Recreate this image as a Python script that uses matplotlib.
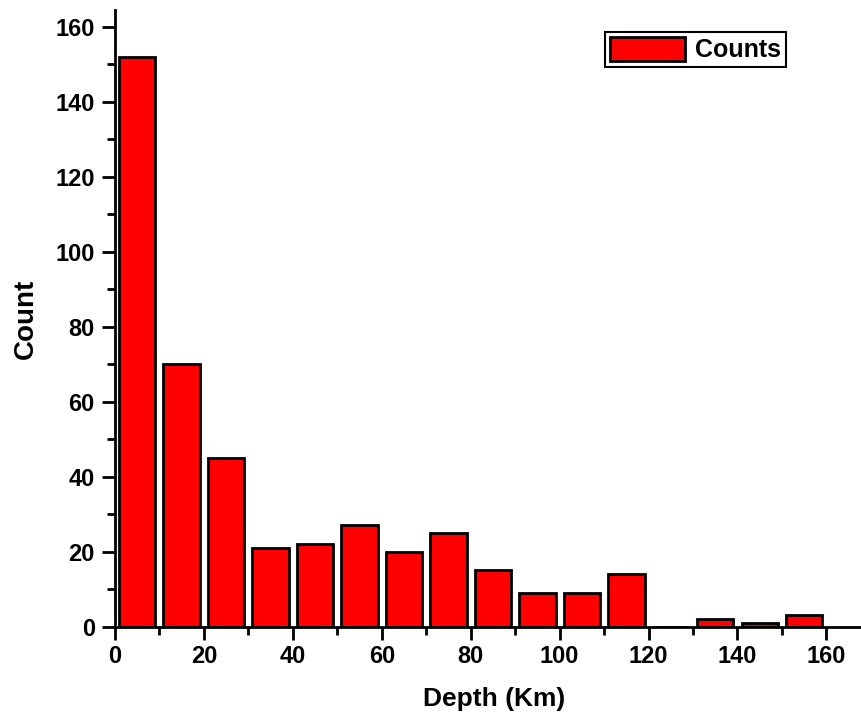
import numpy as np
import matplotlib
matplotlib.use("Agg")
import matplotlib.pyplot as plt
from matplotlib.ticker import MultipleLocator

# histogram of depths, bins of 10 km
bin_starts = [0, 10, 20, 30, 40, 50, 60, 70, 80, 90, 100, 110, 120, 130, 140, 150]
counts = [152, 70, 45, 21, 22, 27, 20, 25, 15, 9, 9, 14, 0, 2, 1, 3]

plt.rcParams['font.family'] = ['Liberation Sans', 'DejaVu Sans']
plt.rcParams['font.weight'] = 'bold'

fig = plt.figure(figsize=(8.62, 7.2), dpi=100)
ax = fig.add_axes([0.1334, 0.1296, 0.8666, 0.8564])

centers = np.array(bin_starts) + 5
ax.bar(centers, counts, width=8.2, color='#ff0000', edgecolor='black',
       linewidth=2, label='Counts')

ax.set_xlim(0, 168)
ax.set_ylim(0, 164.4)
ax.xaxis.set_major_locator(MultipleLocator(20))
ax.xaxis.set_minor_locator(MultipleLocator(10))
ax.yaxis.set_major_locator(MultipleLocator(20))
ax.yaxis.set_minor_locator(MultipleLocator(10))

for s in ['top', 'right']:
    ax.spines[s].set_visible(False)
for s in ['left', 'bottom']:
    ax.spines[s].set_linewidth(2)

ax.tick_params(which='major', direction='out', length=9.5, width=2, labelsize=17)
ax.tick_params(which='minor', direction='out', length=5.5, width=2)
ax.tick_params(axis='x', pad=4)
ax.tick_params(axis='y', pad=5)

ax.set_xlabel('Depth (Km)', fontsize=19, fontweight='bold')
ax.set_ylabel('Count', fontsize=20, fontweight='bold', labelpad=12)
ax.xaxis.set_label_coords(0.507, -0.098)

leg = ax.legend(loc='upper right', bbox_to_anchor=(0.915, 0.985),
                prop={'size': 18, 'weight': 'bold'},
                fancybox=False, framealpha=1, edgecolor='black',
                handlelength=3.0, handleheight=1.1, borderpad=0.2,
                handletextpad=0.4)
leg.get_frame().set_linewidth(1.5)

fig.savefig('out.png', dpi=100)
